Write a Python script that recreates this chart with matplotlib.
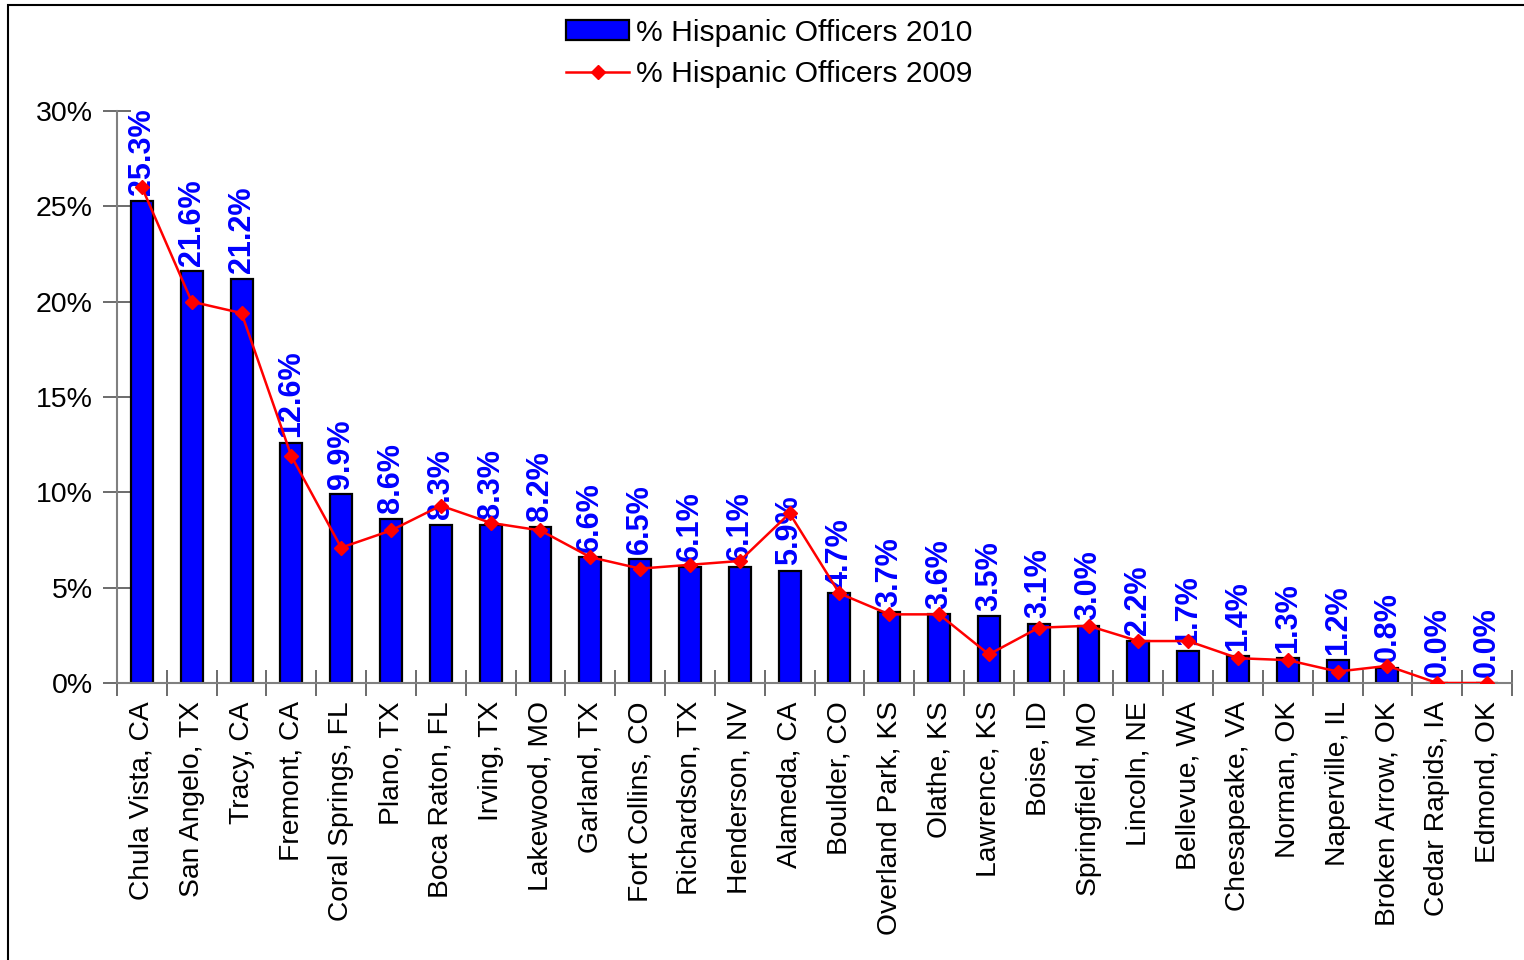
import matplotlib
matplotlib.use("Agg")
import matplotlib.pyplot as plt
import matplotlib.patches as mpatches
from matplotlib.lines import Line2D
from matplotlib.ticker import FuncFormatter, FixedLocator
import numpy as np

plt.rcParams['font.family'] = ['Liberation Sans', 'DejaVu Sans']

cities = ["Chula Vista, CA", "San Angelo, TX", "Tracy, CA", "Fremont, CA",
          "Coral Springs, FL", "Plano, TX", "Boca Raton, FL", "Irving, TX",
          "Lakewood, MO", "Garland, TX", "Fort Collins, CO", "Richardson, TX",
          "Henderson, NV", "Alameda, CA", "Boulder, CO", "Overland Park, KS",
          "Olathe, KS", "Lawrence, KS", "Boise, ID", "Springfield, MO",
          "Lincoln, NE", "Bellevue, WA", "Chesapeake, VA", "Norman, OK",
          "Naperville, IL", "Broken Arrow, OK", "Cedar Rapids, IA", "Edmond, OK"]
pct_2010 = [25.3, 21.6, 21.2, 12.6, 9.9, 8.6, 8.3, 8.3, 8.2, 6.6, 6.5, 6.1,
            6.1, 5.9, 4.7, 3.7, 3.6, 3.5, 3.1, 3.0, 2.2, 1.7, 1.4, 1.3, 1.2,
            0.8, 0.0, 0.0]
pct_2009 = [26.0, 20.0, 19.4, 11.9, 7.1, 8.0, 9.3, 8.4, 8.0, 6.6, 6.0, 6.2,
            6.4, 8.9, 4.7, 3.6, 3.6, 1.5, 2.9, 3.0, 2.2, 2.2, 1.3, 1.2, 0.6,
            0.9, 0.0, 0.0]
yticks = [0, 5, 10, 15, 20, 25, 30]

W, H = 1524, 960
fig = plt.figure(figsize=(W / 100, H / 100), dpi=100)
ax = fig.add_axes([117 / W, 1 - 683 / H, (1512 - 117) / W, (683 - 111) / H])

x = np.arange(len(cities))
ax.bar(x, pct_2010, width=0.44, color='#0000FF', edgecolor='black',
       linewidth=1.6, zorder=2)
ax.plot(x, pct_2009, color='#FF0000', linewidth=1.8, marker='D',
        markersize=7, markerfacecolor='#FF0000', markeredgecolor='#FF0000',
        zorder=4)

for xi, v in zip(x, pct_2010):
    ax.annotate(f"{v:.1f}%", (xi, v), xytext=(0, 4), textcoords='offset points',
                rotation=90, ha='center', va='bottom', color='#0000FF',
                fontsize=22, fontweight='bold', zorder=3)

ax.set_xlim(-0.5, len(cities) - 0.5)
ax.set_ylim(0, 30)

ax.set_yticks(yticks)
ax.yaxis.set_major_formatter(FuncFormatter(lambda v, p: f"{v:.0f}%"))
ax.tick_params(axis='y', direction='inout', length=20, width=1.3,
               color='#606060', labelsize=20.5, pad=7.5)

ax.set_xticks(x)
ax.set_xticklabels(cities, rotation=90, fontsize=20.3)
ax.tick_params(axis='x', which='major', length=0, pad=13)
ax.xaxis.set_minor_locator(FixedLocator(np.arange(-0.5, len(cities), 1.0)))
ax.tick_params(axis='x', which='minor', direction='inout', length=19,
               width=1.3, color='#606060')

for s in ['top', 'right']:
    ax.spines[s].set_visible(False)
for s in ['left', 'bottom']:
    ax.spines[s].set_color('#808080')
    ax.spines[s].set_linewidth(1.5)

# outer frame (partially cut off, as in the reference)
frame = mpatches.Rectangle((8 / W, -0.2), 1.2, 1 + 0.2 - 5 / H,
                           transform=fig.transFigure, fill=False,
                           edgecolor='black', linewidth=1.5, clip_on=False)
fig.patches.append(frame)

handles = [mpatches.Patch(facecolor='#0000FF', edgecolor='black', linewidth=1.6),
           Line2D([], [], color='#FF0000', linewidth=1.8, marker='D',
                  markersize=7)]
fig.legend(handles, ["% Hispanic Officers 2010", "% Hispanic Officers 2009"],
           loc='upper left', bbox_to_anchor=(566 / W, 1 - 19 / H),
           frameon=False, fontsize=21.6, handlelength=2.1, handleheight=0.65,
           handletextpad=0.25, labelspacing=0.45, borderpad=0,
           borderaxespad=0)

fig.savefig("out.png", dpi=100)
